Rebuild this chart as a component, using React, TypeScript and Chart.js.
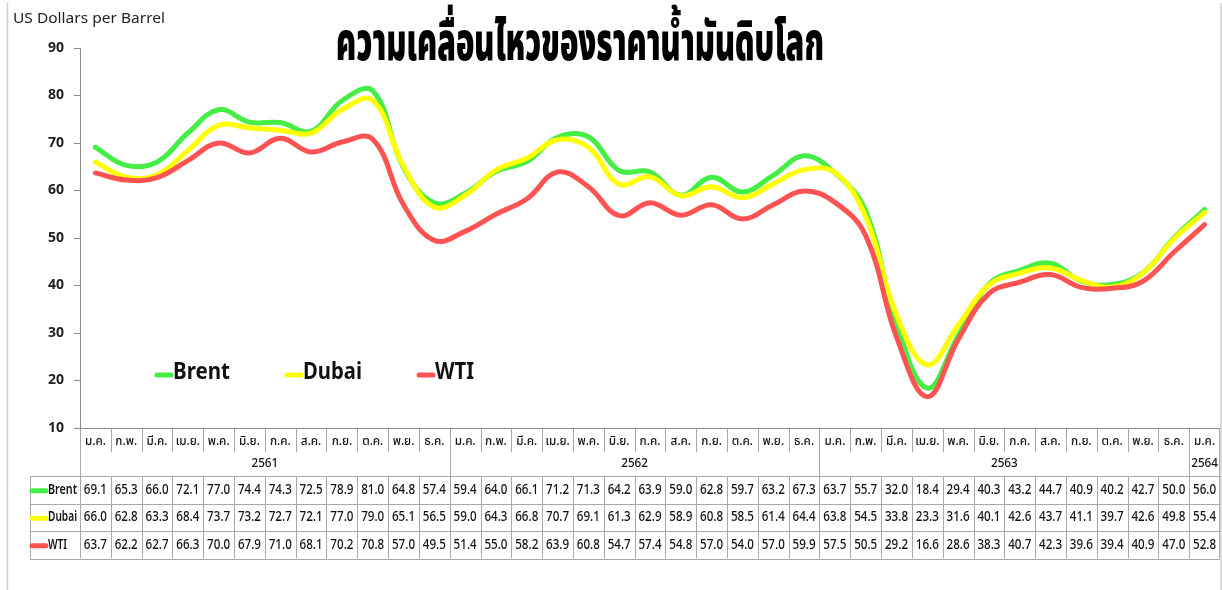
import React, { useEffect, useRef } from "react";
import { Chart, registerables } from "chart.js";

Chart.register(...registerables);

const monthNames = ["ม.ค.", "ก.พ.", "มี.ค.", "เม.ย.", "พ.ค.", "มิ.ย.", "ก.ค.", "ส.ค.", "ก.ย.", "ต.ค.", "พ.ย.", "ธ.ค."];
const yearLabels = ["2561", "2562", "2563", "2564"];
const yearSpans = [12, 12, 12, 1];

const categories: string[] = yearSpans.flatMap((n) => monthNames.slice(0, n));

const brent = [69.1, 65.3, 66.0, 72.1, 77.0, 74.4, 74.3, 72.5, 78.9, 81.0, 64.8, 57.4, 59.4, 64.0, 66.1, 71.2, 71.3, 64.2, 63.9, 59.0, 62.8, 59.7, 63.2, 67.3, 63.7, 55.7, 32.0, 18.4, 29.4, 40.3, 43.2, 44.7, 40.9, 40.2, 42.7, 50.0, 56.0];
const dubai = [66.0, 62.8, 63.3, 68.4, 73.7, 73.2, 72.7, 72.1, 77.0, 79.0, 65.1, 56.5, 59.0, 64.3, 66.8, 70.7, 69.1, 61.3, 62.9, 58.9, 60.8, 58.5, 61.4, 64.4, 63.8, 54.5, 33.8, 23.3, 31.6, 40.1, 42.6, 43.7, 41.1, 39.7, 42.6, 49.8, 55.4];
const wti = [63.7, 62.2, 62.7, 66.3, 70.0, 67.9, 71.0, 68.1, 70.2, 70.8, 57.0, 49.5, 51.4, 55.0, 58.2, 63.9, 60.8, 54.7, 57.4, 54.8, 57.0, 54.0, 57.0, 59.9, 57.5, 50.5, 29.2, 16.6, 28.6, 38.3, 40.7, 42.3, 39.6, 39.4, 40.9, 47.0, 52.8];

const seriesNames = ["Brent", "Dubai", "WTI"];
const seriesValues = [brent, dubai, wti];
const seriesColors = ["#44ee44", "#ffff00", "#ff5252"];

const titleText = "ความเคลื่อนไหวของราคาน้ำมันดิบโลก";
const yAxisTitle = "US Dollars per Barrel";

const FONT = '"Noto Sans", "Noto Sans Thai", "DejaVu Sans", sans-serif';

function text(ctx: CanvasRenderingContext2D, s: string, x: number, y: number, font: string, color: string, align: CanvasTextAlign, sx = 1, fitW = 0, sy = 1) {
  ctx.save();
  ctx.font = font;
  ctx.fillStyle = color;
  ctx.textBaseline = "middle";
  ctx.textAlign = align;
  let scale = sx;
  if (fitW > 0) scale = fitW / ctx.measureText(s).width;
  ctx.translate(x, y);
  ctx.scale(scale, sy);
  ctx.fillText(s, 0, 0);
  ctx.restore();
}

function line(ctx: CanvasRenderingContext2D, x1: number, y1: number, x2: number, y2: number, color: string, w = 1) {
  ctx.save();
  ctx.strokeStyle = color;
  ctx.lineWidth = w;
  ctx.beginPath();
  ctx.moveTo(x1, y1);
  ctx.lineTo(x2, y2);
  ctx.stroke();
  ctx.restore();
}

const decorPlugin = {
  id: "decor",
  afterDraw(chart: any) {
    const ctx: CanvasRenderingContext2D = chart.ctx;
    const area = chart.chartArea;
    const xs = chart.scales.x;
    const n = categories.length;
    const colW = (area.right - area.left) / n;
    const cx = (i: number) => xs.getPixelForValue(i);
    const edge = (i: number) => cx(i) - colW / 2;

    // frame
    line(ctx, 7.5, 3, 7.5, 590, "#d0d0d0", 1.5);
    line(ctx, 1221, 3, 1221, 590, "#d0d0d0", 1.5);

    // title & axis title
    text(ctx, titleText, 580, 45, `900 50px ${FONT}`, "#000", "center", 1, 488, 1.05);
    text(ctx, yAxisTitle, 13, 19, `15px ${FONT}`, "#222", "left", 1, 152);

    // legend
    const legendX = [155, 285, 417];
    const legendW = [57, 59, 39];
    seriesNames.forEach((name, k) => {
      ctx.save();
      ctx.strokeStyle = seriesColors[k];
      ctx.lineWidth = 5;
      ctx.lineCap = "round";
      ctx.beginPath();
      ctx.moveTo(legendX[k] + 2, 375);
      ctx.lineTo(legendX[k] + 16, 375);
      ctx.stroke();
      ctx.restore();
      text(ctx, name, legendX[k] + 18, 372, `bold 24px ${FONT}`, "#111", "left", 1, legendW[k]);
    });

    // table
    const gridC = "#a8a8a8";
    const top = area.bottom;
    const rowY = [476, 503.5, 531, 558.5];
    const L = area.left;
    const R = area.right;
    // month row
    categories.forEach((m, i) => {
      text(ctx, m, cx(i), 441, `500 13px ${FONT}`, "#111", "center", 0.9);
    });
    for (let i = 1; i < n; i++) line(ctx, Math.round(edge(i)) + 0.5, top, Math.round(edge(i)) + 0.5, 452, gridC);
    // year row
    let start = 0;
    yearLabels.forEach((y, k) => {
      const a = edge(start);
      const b = edge(start + yearSpans[k]);
      text(ctx, y, (a + b) / 2, 463, `500 13px ${FONT}`, "#111", "center", 0.9);
      start += yearSpans[k];
      if (start < n) line(ctx, Math.round(b) + 0.5, top, Math.round(b) + 0.5, rowY[0], gridC);
    });
    line(ctx, L + 0.5, top, L + 0.5, rowY[3], gridC);
    line(ctx, R - 0.5, top, R - 0.5, rowY[3], gridC);
    // data rows
    rowY.forEach((y) => line(ctx, 30, Math.round(y) + 0.5, R, Math.round(y) + 0.5, gridC));
    line(ctx, 30.5, rowY[0], 30.5, rowY[3], gridC);
    for (let i = 1; i < n; i++) line(ctx, Math.round(edge(i)) + 0.5, rowY[0], Math.round(edge(i)) + 0.5, rowY[3], gridC);
    seriesNames.forEach((name, k) => {
      const yc = (rowY[k] + rowY[k + 1]) / 2;
      ctx.save();
      ctx.strokeStyle = seriesColors[k];
      ctx.lineWidth = 5;
      ctx.lineCap = "round";
      ctx.beginPath();
      ctx.moveTo(32, yc + 1);
      ctx.lineTo(46, yc + 1);
      ctx.stroke();
      ctx.restore();
      text(ctx, name, 48, yc, `600 14px ${FONT}`, "#111", "left", 1, name === "WTI" ? 19 : 29);
      seriesValues[k].forEach((v, i) => {
        text(ctx, v.toFixed(1), cx(i), yc, `500 13.5px ${FONT}`, "#111", "center", 0.86);
      });
    });
    // x axis line
    line(ctx, L, top + 0.5, R, top + 0.5, "#8c8c8c");
  },
};

export default function App() {
  const ref = useRef<HTMLCanvasElement | null>(null);
  useEffect(() => {
    document.body.style.margin = "0";
    const canvas = ref.current!;
    const chart = new Chart(canvas, {
      type: "line",
      data: {
        labels: categories,
        datasets: seriesNames.map((name, k) => ({
          label: name,
          data: seriesValues[k],
          borderColor: seriesColors[k],
          backgroundColor: seriesColors[k],
          borderWidth: 5,
          pointRadius: 0,
          tension: 0.4,
          borderCapStyle: "round" as const,
          borderJoinStyle: "round" as const,
          order: 2 - k,
        })),
      },
      options: {
        responsive: false,
        animation: false,
        devicePixelRatio: 1,
        layout: { padding: { left: 0, right: 2, top: 48, bottom: 162 } },
        plugins: { legend: { display: false }, tooltip: { enabled: false }, title: { display: false } },
        scales: {
          x: { type: "category", offset: true, display: false },
          y: {
            min: 10,
            max: 90,
            ticks: { stepSize: 10, color: "#222", font: { size: 14, weight: "bold", family: FONT }, padding: 10 },
            grid: { display: true, drawOnChartArea: false, drawTicks: true, tickLength: 6, color: "#8c8c8c" },
            border: { display: true, color: "#8c8c8c" },
            afterFit: (s: any) => {
              s.width = 80;
            },
          },
        },
      },
      plugins: [decorPlugin],
    });
    return () => chart.destroy();
  }, []);
  return <canvas ref={ref} width={1222} height={590} style={{ display: "block" }} />;
}
